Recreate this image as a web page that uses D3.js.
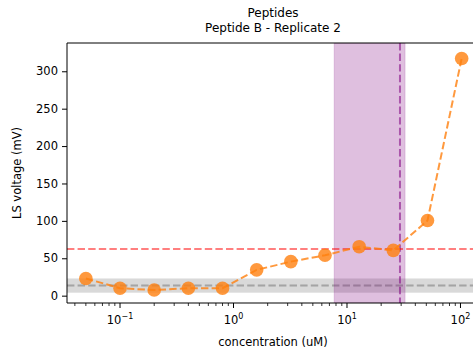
<!DOCTYPE html>
<html>
<head>
<meta charset="utf-8">
<script src="https://cdn.jsdelivr.net/npm/d3@7"></script>
<style>
  body { margin: 0; background: #fff; }
  text { font-family: "DejaVu Sans", sans-serif; fill: #000; }
</style>
</head>
<body>
<div id="chart"></div>
<script>
// data
const concentrations = [0.05, 0.1, 0.2, 0.4, 0.8, 1.6, 3.2, 6.4, 12.8, 25.6, 51.2, 102.4];
const voltages = [23, 10, 7.5, 10, 10, 34.5, 45.5, 54, 65.5, 60.5, 100.5, 317];
const threshold = 62.5;
const baseline = 13.5;
const baselineBand = [4, 23];
const ecBand = [7.7, 32.5];
const ecLine = 29.3;
const yTicks = [0, 50, 100, 150, 200, 250, 300];
const xTicks = [0.1, 1, 10, 100];
const xTickExp = ['\u22121', '0', '1', '2'];

const W = 473, H = 353;
const pLeft = 67, pTop = 43, pRight = 479, pBottom = 303;

const svg = d3.select('#chart').append('svg')
  .attr('width', W).attr('height', H);

svg.append('defs').append('clipPath').attr('id', 'clip')
  .append('rect').attr('x', pLeft).attr('y', pTop)
  .attr('width', pRight - pLeft).attr('height', pBottom - pTop);

const x = d3.scaleLog().domain([0.0341, 145.6]).range([pLeft, pRight]);
const y = d3.scaleLinear().domain([-9.8, 337.8]).range([pBottom, pTop]);

const plot = svg.append('g').attr('clip-path', 'url(#clip)');

// baseline band + line
plot.append('rect')
  .attr('x', pLeft).attr('width', pRight - pLeft)
  .attr('y', y(baselineBand[1]))
  .attr('height', y(baselineBand[0]) - y(baselineBand[1]))
  .attr('fill', '#808080').attr('opacity', 0.3);
plot.append('line')
  .attr('x1', pLeft).attr('x2', pRight)
  .attr('y1', y(baseline)).attr('y2', y(baseline))
  .attr('stroke', '#808080').attr('stroke-opacity', 0.6)
  .attr('stroke-width', 2).attr('stroke-dasharray', '7.4,3.2');

// purple span
plot.append('rect')
  .attr('x', x(ecBand[0])).attr('width', x(ecBand[1]) - x(ecBand[0]))
  .attr('y', pTop).attr('height', pBottom - pTop)
  .attr('fill', 'purple').attr('fill-opacity', 0.25)
  .attr('stroke', 'purple').attr('stroke-opacity', 0.15).attr('stroke-width', 1);
plot.append('line')
  .attr('x1', x(ecLine)).attr('x2', x(ecLine))
  .attr('y1', pTop).attr('y2', pBottom)
  .attr('stroke', 'purple').attr('stroke-opacity', 0.55)
  .attr('stroke-width', 2).attr('stroke-dasharray', '7.4,3.2');

// threshold line
plot.append('line')
  .attr('x1', pLeft).attr('x2', pRight)
  .attr('y1', y(threshold)).attr('y2', y(threshold))
  .attr('stroke', 'red').attr('stroke-opacity', 0.5)
  .attr('stroke-width', 2).attr('stroke-dasharray', '7.4,3.2');

// series
const pts = concentrations.map((c, i) => [c, voltages[i]]);
plot.append('path')
  .datum(pts)
  .attr('d', d3.line().x(d => x(d[0])).y(d => y(d[1])))
  .attr('fill', 'none').attr('stroke', '#ff7f0e').attr('stroke-opacity', 0.8)
  .attr('stroke-width', 2).attr('stroke-dasharray', '7.4,3.2');
plot.selectAll('circle.pt').data(pts).enter().append('circle')
  .attr('class', 'pt')
  .attr('cx', d => x(d[0])).attr('cy', d => y(d[1]))
  .attr('r', 6.8)
  .attr('fill', '#ff7f0e').attr('fill-opacity', 0.8);

// spines
svg.append('line').attr('x1', pLeft).attr('x2', pLeft).attr('y1', pTop).attr('y2', pBottom)
  .attr('stroke', '#000').attr('stroke-width', 1);
svg.append('line').attr('x1', pLeft).attr('x2', pRight).attr('y1', pBottom).attr('y2', pBottom)
  .attr('stroke', '#000').attr('stroke-width', 1);
svg.append('line').attr('x1', pLeft).attr('x2', pRight).attr('y1', pTop).attr('y2', pTop)
  .attr('stroke', '#000').attr('stroke-width', 1);

// y axis
const yAxis = svg.append('g').attr('transform', `translate(${pLeft},0)`)
  .call(d3.axisLeft(y).tickValues(yTicks).tickSize(5).tickPadding(4));
yAxis.select('.domain').remove();
yAxis.selectAll('text').style('font-size', '11.5px').style('font-family', '"DejaVu Sans", sans-serif');

// x axis: minor ticks
const minor = [];
for (let e = -2; e <= 2; e++) {
  for (let m = 2; m <= 9; m++) {
    const v = m * Math.pow(10, e);
    if (v > x.domain()[0] && v < x.domain()[1]) minor.push(v);
  }
}
svg.append('g').selectAll('line').data(minor).enter().append('line')
  .attr('x1', d => x(d)).attr('x2', d => x(d))
  .attr('y1', pBottom).attr('y2', pBottom + 3)
  .attr('stroke', '#000').attr('stroke-width', 0.8);

const xg = svg.append('g');
xg.selectAll('line').data(xTicks).enter().append('line')
  .attr('x1', d => x(d)).attr('x2', d => x(d))
  .attr('y1', pBottom).attr('y2', pBottom + 5)
  .attr('stroke', '#000').attr('stroke-width', 1);
const lab = xg.selectAll('text').data(xTicks).enter().append('text')
  .attr('x', d => x(d)).attr('y', 324)
  .attr('text-anchor', 'middle')
  .style('font-size', '11.5px');
lab.append('tspan').text('10');
lab.append('tspan').attr('dy', -5).style('font-size', '8px')
  .text((d, i) => xTickExp[i]);

// labels
svg.append('text').attr('x', 273).attr('y', 346).attr('text-anchor', 'middle')
  .style('font-size', '11.5px').text('concentration (uM)');
svg.append('text')
  .attr('transform', `translate(21,${(pTop + pBottom) / 2}) rotate(-90)`)
  .attr('text-anchor', 'middle')
  .style('font-size', '11.5px').text('LS voltage (mV)');
svg.append('text').attr('x', 273).attr('y', 17).attr('text-anchor', 'middle')
  .style('font-size', '12px').text('Peptides');
svg.append('text').attr('x', 273).attr('y', 32).attr('text-anchor', 'middle')
  .style('font-size', '12px').text('Peptide B - Replicate 2');
</script>
</body>
</html>
